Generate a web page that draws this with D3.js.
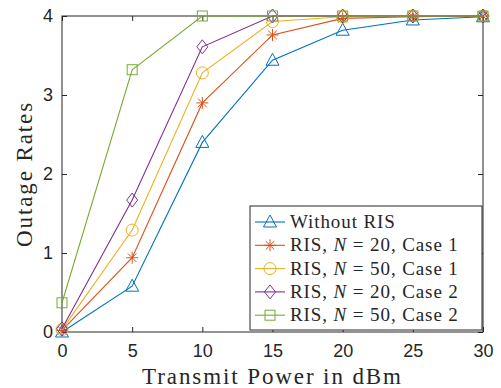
<!DOCTYPE html>
<html>
<head>
<meta charset="utf-8">
<script src="https://cdn.jsdelivr.net/npm/d3@7"></script>
<style>
  body { margin: 0; background: #fff; }
  svg { display: block; }
</style>
</head>
<body>
<div id="chart"></div>
<script>
// Data
const power = [0, 5, 10, 15, 20, 25, 30];
const withoutRIS = [0.00, 0.58, 2.40, 3.44, 3.82, 3.95, 3.99];
const risN20Case1 = [0.02, 0.94, 2.90, 3.76, 3.97, 3.99, 4.00];
const risN50Case1 = [0.03, 1.29, 3.28, 3.93, 3.99, 4.00, 4.00];
const risN20Case2 = [0.04, 1.67, 3.61, 4.00, 4.00, 4.00, 4.00];
const risN50Case2 = [0.37, 3.32, 4.00, 4.00, 4.00, 4.00, 4.00];
const xTicks = [0, 5, 10, 15, 20, 25, 30];
const yTicks = [0, 1, 2, 3, 4];

const series = [
  { n: null, c: null, label: "Without RIS", values: withoutRIS, color: "#0072BD", marker: "triangle" },
  { n: 20, c: 1, values: risN20Case1, color: "#D95319", marker: "star" },
  { n: 50, c: 1, values: risN50Case1, color: "#EDB120", marker: "circle" },
  { n: 20, c: 2, values: risN20Case2, color: "#7E2F8E", marker: "diamond" },
  { n: 50, c: 2, values: risN50Case2, color: "#77AC30", marker: "square" }
];

const W = 501, H = 388;
const margin = { top: 16, right: 18, bottom: 56, left: 62 };
const width = W - margin.left - margin.right;
const height = H - margin.top - margin.bottom;

const svg = d3.select("#chart").append("svg")
  .attr("width", W)
  .attr("height", H);

const g = svg.append("g")
  .attr("transform", `translate(${margin.left},${margin.top})`);

const x = d3.scaleLinear().domain([0, 30]).range([0, width]);
const y = d3.scaleLinear().domain([0, 4]).range([height, 0]);

const tickFont = "'Liberation Sans', Arial, sans-serif";
const serif = "'Liberation Serif', 'Times New Roman', serif";

// axes, MATLAB style ticks inside, box on
function styleAxis(sel) {
  sel.select(".domain").remove();
  sel.selectAll("line").attr("stroke", "#262626").attr("stroke-width", 1);
}
g.append("g")
  .attr("transform", `translate(0,${height})`)
  .call(d3.axisBottom(x).tickValues(xTicks).tickSize(-5).tickPadding(12).tickFormat(d3.format("d")))
  .call(styleAxis)
  .selectAll("text").style("font-family", tickFont).style("font-size", "18px").attr("fill", "#262626");
g.append("g")
  .call(d3.axisTop(x).tickValues(xTicks).tickSize(-5).tickFormat(""))
  .call(styleAxis);
g.append("g")
  .call(d3.axisLeft(y).tickValues(yTicks).tickSize(-5).tickPadding(9).tickFormat(d3.format("d")))
  .call(styleAxis)
  .selectAll("text").style("font-family", tickFont).style("font-size", "18px").attr("fill", "#262626");
g.append("g")
  .attr("transform", `translate(${width},0)`)
  .call(d3.axisRight(y).tickValues(yTicks).tickSize(-5).tickFormat(""))
  .call(styleAxis);

g.append("rect")
  .attr("width", width).attr("height", height)
  .attr("fill", "none").attr("stroke", "#262626").attr("stroke-width", 1);

// marker drawing
function drawMarker(sel, type, color) {
  if (type === "triangle") {
    sel.append("path").attr("d", "M0,-7L6.5,5L-6.5,5Z");
  } else if (type === "circle") {
    sel.append("circle").attr("r", 6);
  } else if (type === "diamond") {
    sel.append("path").attr("d", "M0,-7L5.5,0L0,7L-5.5,0Z");
  } else if (type === "square") {
    sel.append("rect").attr("x", -5).attr("y", -5).attr("width", 10).attr("height", 10);
  } else if (type === "star") {
    sel.append("path").attr("d", "M0,-6V6M-6,0H6M-4.3,-4.3L4.3,4.3M-4.3,4.3L4.3,-4.3");
  }
  sel.selectAll("*").attr("fill", "none").attr("stroke", color).attr("stroke-width", 1);
}

const line = d3.line()
  .x((d, i) => x(power[i]))
  .y(d => y(d));

series.forEach(s => {
  g.append("path")
    .datum(s.values)
    .attr("fill", "none")
    .attr("stroke", s.color)
    .attr("stroke-width", 1.1)
    .attr("d", line);
  s.values.forEach((v, i) => {
    const m = g.append("g").attr("transform", `translate(${x(power[i])},${y(v)})`);
    drawMarker(m, s.marker, s.color);
  });
});

// axis labels
svg.append("text")
  .attr("x", margin.left + width / 2)
  .attr("y", H - 4)
  .attr("text-anchor", "middle")
  .style("font-family", serif)
  .style("font-size", "23px")
  .style("letter-spacing", "1.9px")
  .attr("fill", "#262626")
  .text("Transmit Power in dBm");

svg.append("text")
  .attr("transform", `translate(32,${margin.top + height / 2}) rotate(-90)`)
  .attr("text-anchor", "middle")
  .style("font-family", serif)
  .style("font-size", "23px")
  .style("letter-spacing", "1.9px")
  .attr("fill", "#262626")
  .text("Outage Rates");

// legend
const legX = 250 - margin.left, legY = 206 - margin.top;
const legW = 232, rowH = 23.3;
const legend = g.append("g").attr("transform", `translate(${legX},${legY})`);
legend.append("rect")
  .attr("width", legW).attr("height", 124)
  .attr("fill", "#fff").attr("stroke", "#262626").attr("stroke-width", 1);

series.forEach((s, i) => {
  const row = legend.append("g").attr("transform", `translate(0,${16 + i * rowH})`);
  row.append("line").attr("x1", 5).attr("x2", 35).attr("y1", 0).attr("y2", 0)
    .attr("stroke", s.color).attr("stroke-width", 1.1);
  const m = row.append("g").attr("transform", "translate(20,0)");
  drawMarker(m, s.marker, s.color);
  const t = row.append("text")
    .attr("x", 40).attr("y", 6)
    .style("font-family", serif)
    .style("font-size", "19px")
    .style("letter-spacing", "0.9px")
    .attr("fill", "#262626");
  if (s.n === null) {
    t.text(s.label);
  } else {
    t.append("tspan").text("RIS, ");
    t.append("tspan").style("font-style", "italic").text("N");
    t.append("tspan").text(" = ");
    t.append("tspan").text(`${s.n}, Case ${s.c}`);
  }
});
</script>
</body>
</html>
